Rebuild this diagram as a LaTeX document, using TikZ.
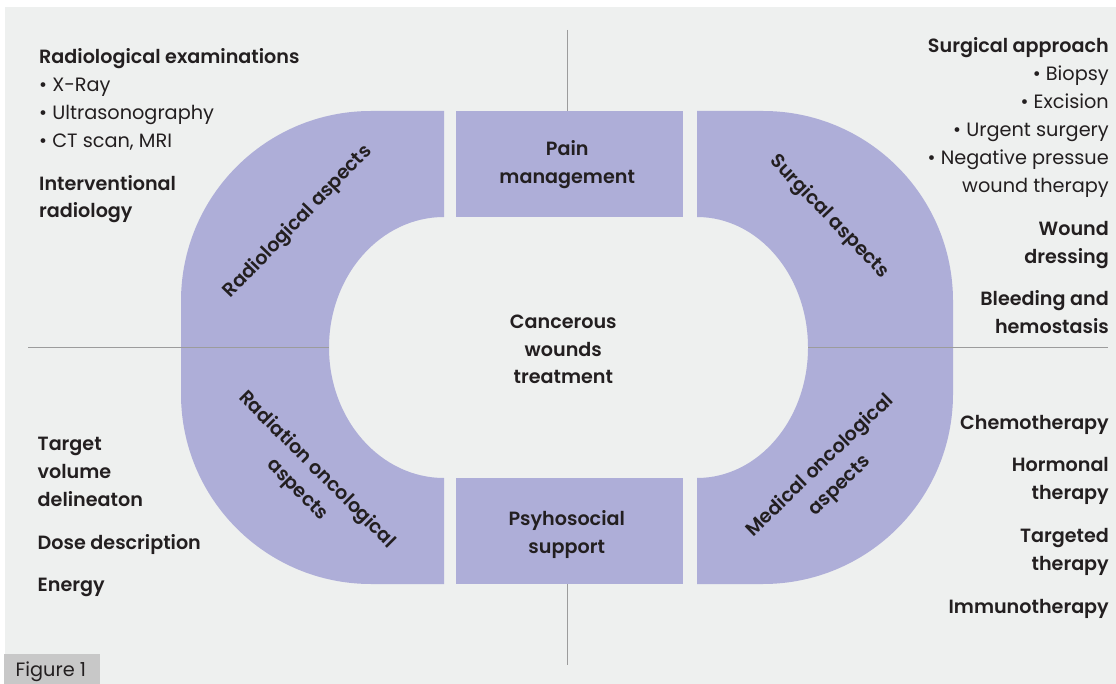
\documentclass[tikz,border=0pt]{standalone}
\usepackage{fontspec}
\setmainfont{Poppins}[BoldFont={Poppins SemiBold}]
\definecolor{bg}{HTML}{EEF0EF}
\definecolor{purp}{HTML}{AEAED8}
\definecolor{ink}{HTML}{231F20}
\definecolor{rulec}{HTML}{9C9C9C}
\definecolor{figbox}{HTML}{C8C8C8}
\begin{document}
\begin{tikzpicture}[x=1pt,y=-1pt,
  txt/.style={inner sep=0pt, text=ink, font=\fontsize{19.3}{28}\selectfont},
  bt/.style={inner sep=0pt, text=ink, font=\fontsize{19.15}{28}\selectfont\bfseries},
  lft/.style={anchor=base west}, rgt/.style={anchor=base east}, ctr/.style={anchor=base},
  rot/.style={inner sep=0pt, text=ink, font=\fontsize{19.15}{28}\selectfont\bfseries, align=center},
  piece/.style={fill=purp},
  ruleline/.style={draw=rulec, line width=1pt}]
\useasboundingbox (0,0) rectangle (1116,684);
\fill[white] (0,0) rectangle (1116,684);
\fill[bg] (5,7) rectangle (1116,684);
% purple pieces
\fill[piece] (444,111) -- (371,111) arc[start angle=270, end angle=180, radius=190]
  -- (181,394) arc[start angle=180, end angle=90, radius=190]
  -- (444,584) -- (444,478) arc[start angle=90, end angle=270, x radius=115, y radius=130.5] -- cycle;
\fill[piece] (697,111) -- (763,111) arc[start angle=270, end angle=360, radius=190]
  -- (953,394) arc[start angle=0, end angle=90, radius=190]
  -- (697,584) -- (697,478) arc[start angle=90, end angle=-90, x radius=111, y radius=130.5] -- cycle;
\fill[piece] (456,111) rectangle (683,217);
\fill[piece] (456,478) rectangle (683,584);
% rules
\coordinate (hl1) at (28,347.5);  \coordinate (hl2) at (329,347.5);
\coordinate (hr1) at (808,347.5); \coordinate (hr2) at (1108,347.5);
\coordinate (vt1) at (567.5,30);  \coordinate (vt2) at (567.5,111);
\coordinate (vb1) at (567.5,584); \coordinate (vb2) at (567.5,665);
\draw[ruleline] (hl1) -- (hl2);
\draw[ruleline] (hr1) -- (hr2);
\draw[ruleline] (vt1) -- (vt2);
\draw[ruleline] (vb1) -- (vb2);
% top left texts
\node[bt,lft] (ra) at (39,63.5) {Radiological examinations};
\node[txt,lft] (rb) at (39,91.5) {• X-Ray};
\node[txt,lft] (rc) at (39,119.5) {• Ultrasonography};
\node[txt,lft] (rd) at (39,147.5) {• CT scan, MRI};
\node[bt,lft] (re) at (39,190.5) {Interventional};
\node[bt,lft] (rf) at (39,218) {radiology};
% top right texts
\node[bt,rgt] (sa) at (1109,52.3) {Surgical approach};
\node[txt,rgt] (sb) at (1109,80.3) {• Biopsy};
\node[txt,rgt] (sc) at (1109,108.3) {• Excision};
\node[txt,rgt] (sd) at (1109,136.3) {• Urgent surgery};
\node[txt,rgt] (se) at (1109,164.3) {• Negative pressue};
\node[txt,rgt] (sf) at (1109,192.3) {wound therapy};
\node[bt,rgt] (sg) at (1109,235.7) {Wound};
\node[bt,rgt] (sh) at (1109,263.5) {dressing};
\node[bt,rgt] (si) at (1109,305.7) {Bleeding and};
\node[bt,rgt] (sj) at (1109,333.5) {hemostasis};
% bottom left texts
\node[bt,lft] (ta) at (37.5,450) {Target};
\node[bt,lft] (tb) at (37.5,478) {volume};
\node[bt,lft] (tc) at (37.5,506) {delineaton};
\node[bt,lft] (td) at (37.5,549.3) {Dose description};
\node[bt,lft] (te) at (37.5,591.7) {Energy};
% bottom right texts
\node[bt,rgt] (ma) at (1109,429.3) {Chemotherapy};
\node[bt,rgt] (mb) at (1109,471.7) {Hormonal};
\node[bt,rgt] (mc) at (1109,499.5) {therapy};
\node[bt,rgt] (md) at (1109,542.3) {Targeted};
\node[bt,rgt] (me) at (1109,570.2) {therapy};
\node[bt,rgt] (mf) at (1109,613.3) {Immunotherapy};
% centre texts
\node[bt,ctr] (ca) at (563.3,328.3) {Cancerous};
\node[bt,ctr] (cb) at (563.3,356.2) {wounds};
\node[bt,ctr] (cc) at (563.3,384) {treatment};
\node[bt,ctr] (pa) at (567.2,155.7) {Pain};
\node[bt,ctr] (pb) at (567.2,183.5) {management};
\node[bt,ctr] (qa) at (566.7,525) {Psyhosocial};
\node[bt,ctr] (qb) at (566.7,553) {support};
% rotated labels
\node[rot,rotate=46] (rad) at (298,222) {Radiological aspects};
\node[rot,rotate=-46] (sur) at (829,217) {Surgical aspects};
\node[rot,rotate=-45] (rdo) at (307,480) {Radiation oncological\\aspects};
\node[rot,rotate=44] (med) at (830,476) {Medical oncological\\aspects};
% figure label
\fill[figbox] (4,654) rectangle (100,684);
\node[txt,lft] (fig) at (15.5,676.7) {Figure 1};
\end{tikzpicture}
\end{document}
